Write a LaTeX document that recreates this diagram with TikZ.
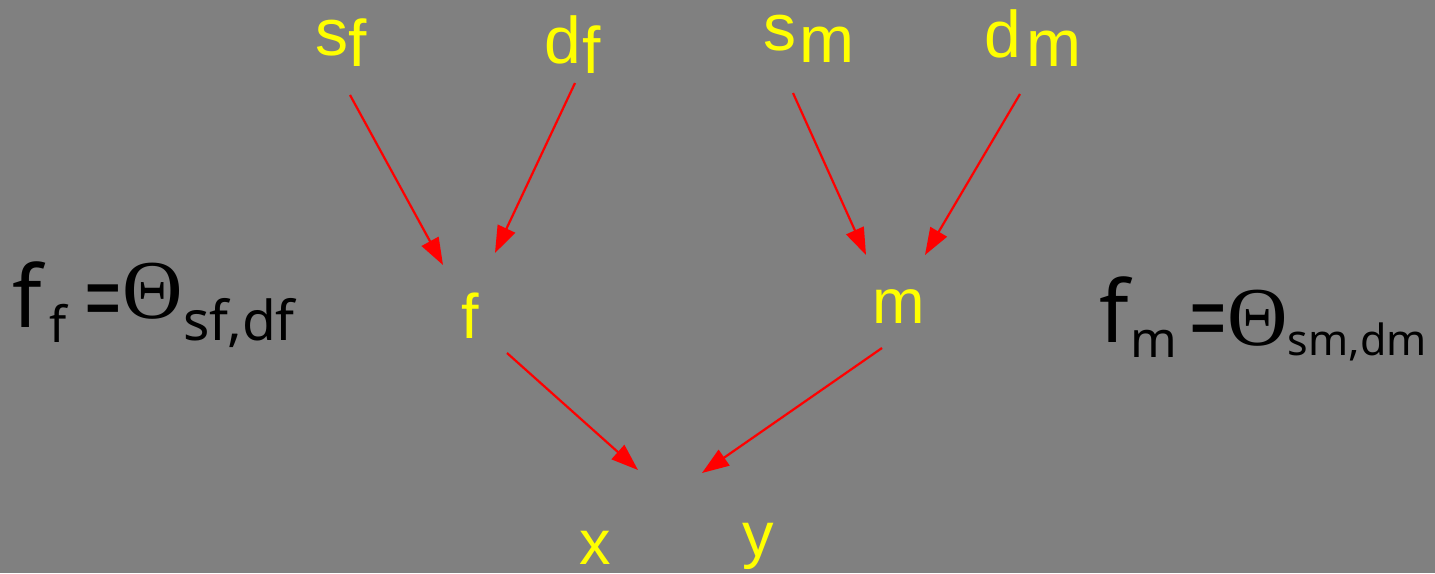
\documentclass[tikz,border=0pt]{standalone}
\usepackage{fontspec}
\setmainfont{Liberation Sans}
\newfontfamily\serf{Liberation Serif}
\newfontfamily\blkf{Noto Sans}
\usetikzlibrary{arrows.meta}
\definecolor{bg}{HTML}{808080}
\definecolor{yel}{HTML}{FFFF00}
\definecolor{rd}{HTML}{FF0000}
\newcommand{\subtxt}[2]{{\fontsize{#1}{#1}\selectfont #2}}
\newcommand{\eqsign}{{\fontsize{60}{60}\selectfont\bfseries\scalebox{1.1}[1.7]{=}}}
\newcommand{\thet}{{\serf\fontsize{62}{62}\selectfont\scalebox{1.35}[1.35]{Θ}}}
\begin{document}
\begin{tikzpicture}[x=1pt,y=-1pt,
  toplbl/.style={text=yel, font=\fontsize{66}{66}\selectfont, inner sep=0pt, anchor=base west},
  midlbl/.style={text=yel, font=\fontsize{63}{63}\selectfont, inner sep=0pt, anchor=base west},
  eqlbl/.style={text=black, font=\blkf\fontsize{86}{86}\selectfont, inner sep=0pt, anchor=base west},
  arr/.style={draw=rd, line width=2.2pt, -{Triangle[length=27pt,width=19pt]}}]
\fill[bg] (0,0) rectangle (1435,573);
\useasboundingbox (0,0) rectangle (1435,573);
% top labels
\node[toplbl] (sf) at (315,55) {s\raisebox{-11pt}{f}};
\node[toplbl] (df) at (544,63) {d\kern2pt\raisebox{-10pt}{f}};
\node[toplbl] (sm) at (763,50) {s\kern3pt\raisebox{-12pt}{m}};
\node[toplbl] (dm) at (984,57) {d\kern6pt\raisebox{-9pt}{m}};
% middle and bottom
\node[midlbl] (f) at (461,338) {f};
\node[midlbl] (m) at (872,323) {m};
\node[midlbl] (x) at (579,564) {x};
\node[midlbl] (y) at (742,556) {y};
% equations
\node[eqlbl] (eqf) at (12,327) {f\kern8pt\raisebox{-15pt}{\subtxt{50}{f}}\kern18pt\raisebox{-7pt}{\eqsign}\kern0pt\raisebox{9pt}{\thet}\raisebox{-13pt}{\subtxt{55}{sf,df}}};
\node[eqlbl] (eqm) at (1099,342) {f\kern2pt\raisebox{-15pt}{\subtxt{50}{m}}\kern12pt\raisebox{-12pt}{\eqsign}\kern0pt\raisebox{-3pt}{\thet}\raisebox{-13pt}{\subtxt{43}{sm,dm}}};
% arrow end points
\coordinate (a1s) at (350,95);  \coordinate (a1e) at (443,265);
\coordinate (a2s) at (575,83);  \coordinate (a2e) at (495,253);
\coordinate (a3s) at (793,93);  \coordinate (a3e) at (866,255);
\coordinate (a4s) at (1020,94); \coordinate (a4e) at (925,255);
\coordinate (a5s) at (507,353); \coordinate (a5e) at (638,470);
\coordinate (a6s) at (882,348); \coordinate (a6e) at (702,473);
\draw[arr] (a1s) -- (a1e);
\draw[arr] (a2s) -- (a2e);
\draw[arr] (a3s) -- (a3e);
\draw[arr] (a4s) -- (a4e);
\draw[arr] (a5s) -- (a5e);
\draw[arr] (a6s) -- (a6e);
\end{tikzpicture}
\end{document}
